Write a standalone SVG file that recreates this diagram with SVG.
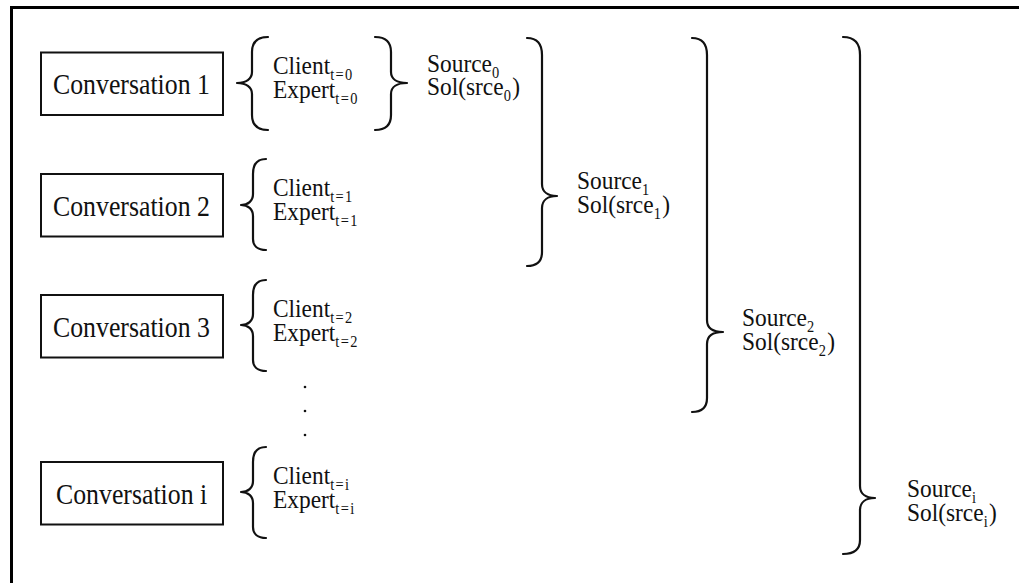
<svg xmlns="http://www.w3.org/2000/svg" width="1019" height="583" viewBox="0 0 1019 583">
<style>
.frame{stroke:#000;stroke-width:3;fill:none}
.box{fill:#fff;stroke:#111;stroke-width:2}
.brace{fill:none;stroke:#111;stroke-width:2.2;stroke-linecap:round;stroke-linejoin:round}
.t{font-family:"Liberation Serif","Times New Roman","DejaVu Serif",serif;fill:#111}
.conv{font-size:30px}
.lbl{font-size:26px}
.sub{font-size:16px;letter-spacing:1.5px}
.dot{fill:#111}
</style>
<rect width="1019" height="583" fill="#fff"/>
<path class="frame" d="M11.5,583 V7.5 H1019"/>

<g id="conv1">
<rect class="box" x="41" y="52.5" width="182" height="62.5"/>
<text class="t conv" font-family="Liberation Serif, serif" transform="translate(53,94) scale(0.86,1)">Conversation 1</text>
</g>
<g id="conv2">
<rect class="box" x="41" y="174" width="182" height="62.5"/>
<text class="t conv" font-family="Liberation Serif, serif" transform="translate(53,215.5) scale(0.86,1)">Conversation 2</text>
</g>
<g id="conv3">
<rect class="box" x="41" y="295" width="182" height="62.5"/>
<text class="t conv" font-family="Liberation Serif, serif" transform="translate(53,336.5) scale(0.86,1)">Conversation 3</text>
</g>
<g id="convi">
<rect class="box" x="41" y="462" width="182" height="62.5"/>
<text class="t conv" font-family="Liberation Serif, serif" transform="translate(56,503.5) scale(0.86,1)">Conversation i</text>
</g>

<g id="turns1" font-family="Liberation Serif, serif">
<text class="t lbl" transform="translate(273,74) scale(0.9,1)">Client<tspan class="sub" dy="6">t=0</tspan></text>
<text class="t lbl" transform="translate(273,98) scale(0.9,1)">Expert<tspan class="sub" dy="6">t=0</tspan></text>
</g>
<g id="turns2" font-family="Liberation Serif, serif">
<text class="t lbl" transform="translate(273,196) scale(0.9,1)">Client<tspan class="sub" dy="6">t=1</tspan></text>
<text class="t lbl" transform="translate(273,220) scale(0.9,1)">Expert<tspan class="sub" dy="6">t=1</tspan></text>
</g>
<g id="turns3" font-family="Liberation Serif, serif">
<text class="t lbl" transform="translate(273,317) scale(0.9,1)">Client<tspan class="sub" dy="6">t=2</tspan></text>
<text class="t lbl" transform="translate(273,341) scale(0.9,1)">Expert<tspan class="sub" dy="6">t=2</tspan></text>
</g>
<g id="turnsi" font-family="Liberation Serif, serif">
<text class="t lbl" transform="translate(273,484) scale(0.9,1)">Client<tspan class="sub" dy="6">t=i</tspan></text>
<text class="t lbl" transform="translate(273,508) scale(0.9,1)">Expert<tspan class="sub" dy="6">t=i</tspan></text>
</g>

<g id="ellipsis">
<circle class="dot" cx="305" cy="387" r="1.3"/>
<circle class="dot" cx="305" cy="411" r="1.3"/>
<circle class="dot" cx="305" cy="435" r="1.3"/>
</g>

<g id="source0" font-family="Liberation Serif, serif">
<text class="t lbl" transform="translate(427,72) scale(0.9,1)">Source<tspan class="sub" dy="6">0</tspan></text>
<text class="t lbl" transform="translate(427,95) scale(0.9,1)">Sol(srce<tspan class="sub" dy="6">0</tspan><tspan dy="-6">)</tspan></text>
</g>
<g id="source1" font-family="Liberation Serif, serif">
<text class="t lbl" transform="translate(577,189) scale(0.9,1)">Source<tspan class="sub" dy="6">1</tspan></text>
<text class="t lbl" transform="translate(577,213) scale(0.9,1)">Sol(srce<tspan class="sub" dy="6">1</tspan><tspan dy="-6">)</tspan></text>
</g>
<g id="source2" font-family="Liberation Serif, serif">
<text class="t lbl" transform="translate(742,326) scale(0.9,1)">Source<tspan class="sub" dy="6">2</tspan></text>
<text class="t lbl" transform="translate(742,350) scale(0.9,1)">Sol(srce<tspan class="sub" dy="6">2</tspan><tspan dy="-6">)</tspan></text>
</g>
<g id="sourcei" font-family="Liberation Serif, serif">
<text class="t lbl" transform="translate(907,497) scale(0.9,1)">Source<tspan class="sub" dy="6">i</tspan></text>
<text class="t lbl" transform="translate(907,521) scale(0.9,1)">Sol(srce<tspan class="sub" dy="6">i</tspan><tspan dy="-6">)</tspan></text>
</g>

<g id="connectors">
<path class="brace" d="M268,37 C258,37 252,41 252,52 L252,72 C252,79 246,83 237,83 C246,83 252,87 252,94 L252,115 C252,126 258,130 268,130"/>
<path class="brace" d="M266,159 C258,159 253,163 253,174 L253,194 C253,201 248,205 241,205 C248,205 253,209 253,216 L253,239 C253,246 258,250 266,250"/>
<path class="brace" d="M266,280 C258,280 253,284 253,295 L253,314 C253,321 248,325 241,325 C248,325 253,329 253,336 L253,360 C253,367 258,371 266,371"/>
<path class="brace" d="M266,447 C258,447 253,451 253,462 L253,481 C253,488 248,492 241,492 C248,492 253,496 253,503 L253,527 C253,534 258,538 266,538"/>
<path class="brace" d="M375,37 C385,37 391,41 391,52 L391,72 C391,79 397,83 407,83 C397,83 391,87 391,94 L391,115 C391,126 385,130 375,130"/>
<path class="brace" d="M527,38 C536,38 542,43 542,55 L542,184 C542,192 548,196 557,196 C548,196 542,200 542,208 L542,252 C542,262 536,266 527,266"/>
<path class="brace" d="M692,38 C701,38 707,43 707,55 L707,320 C707,328 713,332 723,332 C713,332 707,336 707,344 L707,398 C707,408 701,412 692,412"/>
<path class="brace" d="M843,37 C853,37 860,42 860,55 L860,486 C860,494 866,498 875,498 C866,498 860,502 860,510 L860,540 C860,550 853,554 843,554"/>
</g>
</svg>
